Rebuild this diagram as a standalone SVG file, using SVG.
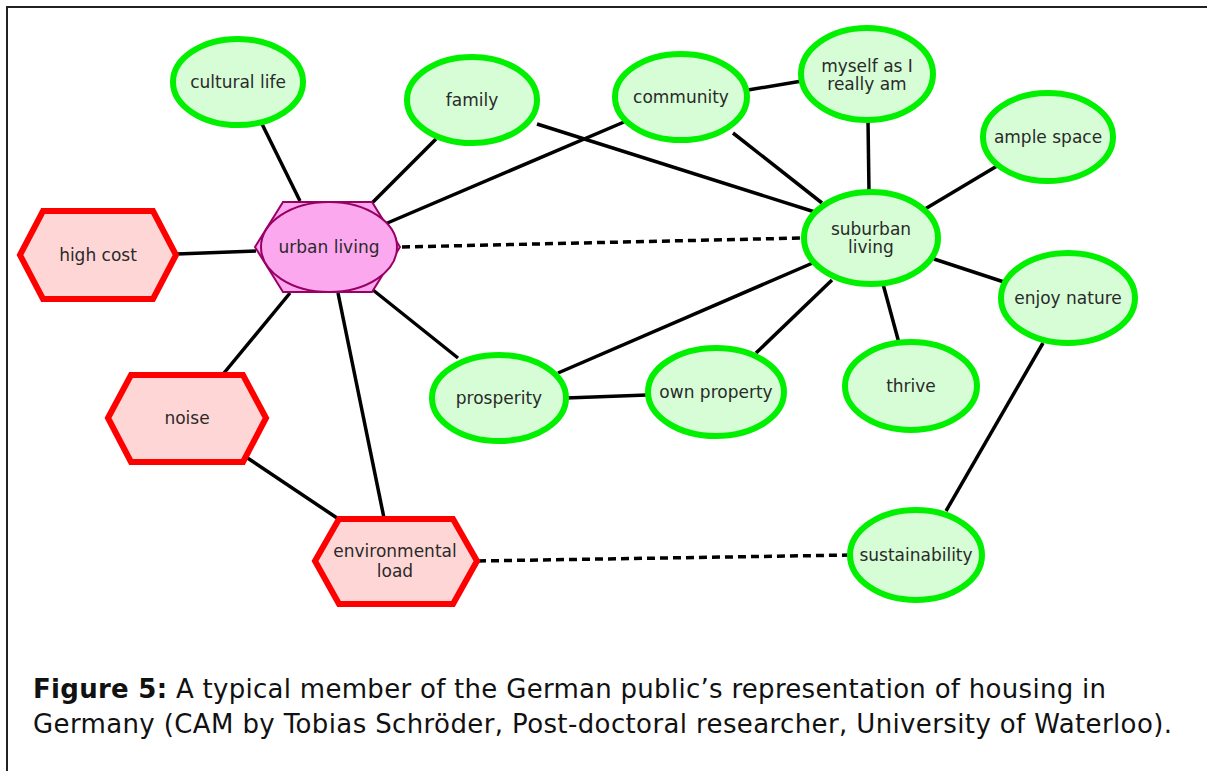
<svg xmlns="http://www.w3.org/2000/svg" width="1207" height="771" viewBox="0 0 1207 771">
<style>
.pos ellipse{fill:#d6fdd6;stroke:#00f000;stroke-width:6}
.neg polygon{fill:#ffd6d6;stroke:#ff0000;stroke-width:6;stroke-linejoin:miter}
text{font-family:"DejaVu Sans","Verdana",sans-serif;font-size:17px;fill:#2a2a2a;text-anchor:middle}
.edges line{stroke:#000;stroke-width:3.5}
.edges .dash{stroke-dasharray:8 5}
.cap{font-size:26px;fill:#111;text-anchor:start}
</style>
<rect width="1207" height="771" fill="#fff"/>
<path d="M7,771 V7 H1207" fill="none" stroke="#222" stroke-width="2"/>
<g class="edges">
<line x1="262" y1="124" x2="300" y2="201"/>
<line x1="436" y1="139" x2="372" y2="203"/>
<line x1="624" y1="122" x2="385" y2="224"/>
<line x1="537" y1="124" x2="818" y2="213"/>
<line x1="748" y1="90" x2="802" y2="81"/>
<line x1="733" y1="133" x2="822" y2="203"/>
<line x1="868" y1="120" x2="869" y2="192"/>
<line x1="997" y1="166" x2="925" y2="209"/>
<line x1="934" y1="259" x2="1004" y2="282"/>
<line x1="883" y1="284" x2="899" y2="343"/>
<line x1="832" y1="280" x2="756" y2="353"/>
<line x1="815" y1="262" x2="558" y2="373"/>
<line x1="566" y1="398" x2="647" y2="395"/>
<line x1="373" y1="290" x2="458" y2="358"/>
<line x1="177" y1="254" x2="256" y2="251"/>
<line x1="290" y1="293" x2="224" y2="373"/>
<line x1="338" y1="293" x2="384" y2="518"/>
<line x1="243" y1="455" x2="343" y2="522"/>
<line x1="1043" y1="343" x2="946" y2="511"/>
<line class="dash" x1="402" y1="247" x2="803" y2="238"/>
<line class="dash" x1="478" y1="561" x2="850" y2="555"/>
</g>
<g id="urban-living">
<polygon points="255,247 283,202 372,202 400,247 372,292 283,292" fill="#fba8ee" stroke="#990066" stroke-width="2"/>
<ellipse cx="329" cy="247" rx="68" ry="45" fill="#fba8ee" stroke="#990066" stroke-width="2"/>
<text x="329" y="253">urban living</text>
</g>
<g id="high-cost" class="neg">
<polygon points="20,255 43,211 153,211 176,255 153,299 43,299"/>
<text x="98" y="261">high cost</text>
</g>
<g id="noise" class="neg">
<polygon points="108,418 131,375 243,375 266,418 243,462 131,462"/>
<text x="187" y="424">noise</text>
</g>
<g id="environmental-load" class="neg">
<polygon points="315,561 339,519 453,519 477,561 453,604 339,604"/>
<text x="395" y="557">environmental</text>
<text x="395" y="577">load</text>
</g>
<g id="cultural-life" class="pos">
<ellipse cx="238" cy="82" rx="65" ry="43"/>
<text x="238" y="88">cultural life</text>
</g>
<g id="family" class="pos">
<ellipse cx="472" cy="100" rx="65" ry="43"/>
<text x="472" y="106">family</text>
</g>
<g id="community" class="pos">
<ellipse cx="681" cy="97" rx="66" ry="43"/>
<text x="681" y="103">community</text>
</g>
<g id="myself" class="pos">
<ellipse cx="867" cy="74" rx="66" ry="46"/>
<text x="867" y="72">myself as I</text>
<text x="867" y="90">really am</text>
</g>
<g id="ample-space" class="pos">
<ellipse cx="1048" cy="137" rx="65" ry="44"/>
<text x="1048" y="143">ample space</text>
</g>
<g id="suburban-living" class="pos">
<ellipse cx="871" cy="238" rx="67" ry="46"/>
<text x="871" y="235">suburban</text>
<text x="871" y="253">living</text>
</g>
<g id="enjoy-nature" class="pos">
<ellipse cx="1068" cy="298" rx="67" ry="45"/>
<text x="1068" y="304">enjoy nature</text>
</g>
<g id="thrive" class="pos">
<ellipse cx="911" cy="386" rx="66" ry="44"/>
<text x="911" y="392">thrive</text>
</g>
<g id="own-property" class="pos">
<ellipse cx="716" cy="392" rx="68" ry="44"/>
<text x="716" y="398">own property</text>
</g>
<g id="prosperity" class="pos">
<ellipse cx="499" cy="398" rx="67" ry="43"/>
<text x="499" y="404">prosperity</text>
</g>
<g id="sustainability" class="pos">
<ellipse cx="916" cy="555" rx="66" ry="45"/>
<text x="916" y="561">sustainability</text>
</g>
<g id="caption">
<text class="cap" x="33" y="698" textLength="1073" lengthAdjust="spacing"><tspan font-weight="bold">Figure 5:</tspan> A typical member of the German public’s representation of housing in</text>
<text class="cap" x="33" y="733" textLength="1139" lengthAdjust="spacing">Germany (CAM by Tobias Schröder, Post-doctoral researcher, University of Waterloo).</text>
</g>
</svg>
